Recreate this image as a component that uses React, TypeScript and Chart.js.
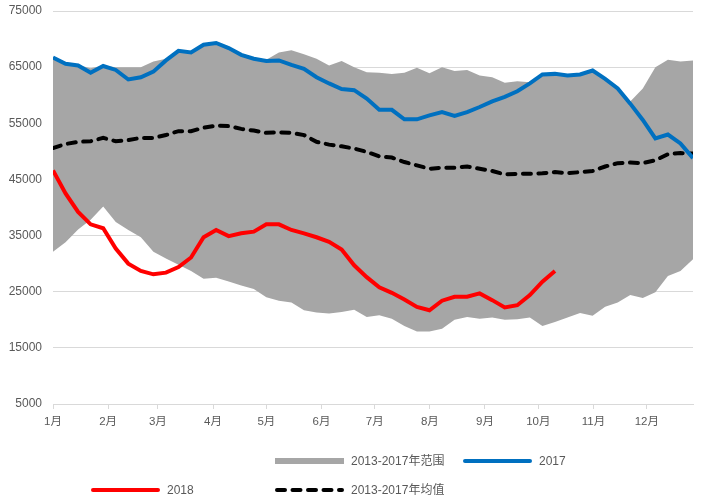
import React, { useEffect, useRef } from 'react';
import { Chart, registerables } from 'chart.js';

Chart.register(...registerables);

// ---- data (weekly points, week index 0..51) ----
const monthLabels = ['1月', '2月', '3月', '4月', '5月', '6月', '7月', '8月', '9月', '10月', '11月', '12月'];
const monthStartDays = [0, 31, 59, 90, 120, 151, 181, 212, 243, 273, 304, 334];
const axisSpanDays = 360;

const series2018 = [
  46600, 42500, 39200, 37000, 36300, 32700, 30000, 28700, 28100, 28400,
  29400, 31100, 34700, 36000, 34900, 35400, 35700, 37000, 37000, 36000,
  35400, 34700, 33900, 32500, 29700, 27600, 25800, 24800, 23600, 22300,
  21700, 23400, 24100, 24100, 24700, 23500, 22200, 22600, 24400, 26800,
  28700,
];

const series2017 = [
  66700, 65600, 65300, 64000, 65200, 64500, 62800, 63200, 64200, 66200,
  67900, 67600, 69000, 69300, 68400, 67200, 66500, 66100, 66200, 65400,
  64700, 63200, 62100, 61100, 60900, 59400, 57400, 57400, 55700, 55700,
  56400, 57000, 56300, 57000, 57900, 58900, 59700, 60700, 62100, 63700,
  63800, 63500, 63700, 64400, 62900, 61200, 58500, 55600, 52300, 53000,
  51400, 48800,
];

const avg5y = [
  50600, 51300, 51700, 51800, 52400, 51800, 52000, 52400, 52400, 52900,
  53600, 53600, 54200, 54600, 54500, 54000, 53700, 53300, 53400, 53300,
  52900, 51700, 51200, 50900, 50500, 49900, 49100, 48900, 48100, 47500,
  46900, 47100, 47100, 47300, 46900, 46500, 45900, 46000, 46000, 46100,
  46300, 46100, 46300, 46500, 47300, 47900, 48000, 47900, 48400, 49500,
  49700, 49600,
];

const max5y = [
  66800, 65700, 65400, 64800, 65300, 65000, 65000, 65000, 66000, 66500,
  67900, 67600, 69000, 69300, 68400, 67200, 66500, 66300, 67600, 68000,
  67300, 66500, 65300, 66100, 65000, 64100, 64000, 63800, 64000, 64900,
  63900, 65000, 64300, 64500, 63500, 63200, 62200, 62500, 62300, 63700,
  63800, 63500, 63700, 64400, 62900, 61200, 58900, 61200, 65000, 66300,
  66000, 66200,
];

const min5y = [
  32100, 33800, 36100, 37800, 40200, 37400, 36000, 34700, 32100, 30900,
  29800, 28700, 27300, 27500, 26800, 26100, 25500, 24000, 23400, 23100,
  21700, 21300, 21100, 21400, 21800, 20500, 20800, 20200, 18900, 17900,
  17900, 18400, 20000, 20500, 20200, 20400, 20000, 20100, 20400, 18900,
  19600, 20400, 21200, 20700, 22300, 23100, 24400, 23900, 24900, 27800,
  28700, 30800,
];

const yTicks = { min: 5000, max: 75000, step: 10000 };

const FONT = '"Liberation Sans", "Noto Sans CJK SC", sans-serif';
const TEXT = '#595959';
const GRID = '#D9D9D9';

const toXY = (arr: number[]) => arr.map((v, i) => ({ x: i, y: v }));

const legendPlugin = {
  id: 'customLegend',
  afterDraw(chart: any) {
    const ctx = chart.ctx as CanvasRenderingContext2D;
    const ds = chart.data.datasets;
    const w = 69;
    const items = [
      { idx: 4, kind: 'box', x: 275, y: 461 },
      { idx: 1, kind: 'line', x: 463, y: 461 },
      { idx: 0, kind: 'line', x: 91, y: 490 },
      { idx: 2, kind: 'dash', x: 275, y: 490 },
    ];
    ctx.save();
    items.forEach((it) => {
      const d = ds[it.idx];
      if (it.kind === 'box') {
        ctx.fillStyle = d.backgroundColor;
        ctx.fillRect(it.x, it.y - 3, w, 6);
      } else {
        ctx.strokeStyle = d.borderColor;
        ctx.lineWidth = 4;
        ctx.lineCap = 'round';
        ctx.setLineDash(it.kind === 'dash' ? [8, 7.5] : []);
        ctx.beginPath();
        ctx.moveTo(it.x + 2, it.y);
        ctx.lineTo(it.x + w - 2, it.y);
        ctx.stroke();
        ctx.setLineDash([]);
      }
      ctx.fillStyle = TEXT;
      ctx.font = '12px ' + FONT;
      ctx.textBaseline = 'middle';
      ctx.textAlign = 'left';
      ctx.fillText(d.label, it.x + w + 7, it.y + 1);
    });
    ctx.restore();
  },
};

export default function App() {
  const canvasRef = useRef<HTMLCanvasElement | null>(null);

  useEffect(() => {
    document.body.style.margin = '0';
    const canvas = canvasRef.current;
    if (!canvas) return;
    const lastIndex = series2017.length - 1;
    const tickPos = monthStartDays.map((d) => (d * lastIndex) / axisSpanDays);

    const chart = new Chart(canvas, {
      type: 'line',
      data: {
        datasets: [
          {
            label: '2018',
            data: toXY(series2018),
            borderColor: '#FF0000',
            backgroundColor: '#FF0000',
            borderWidth: 4,
            pointRadius: 0,
            fill: false,
            tension: 0,
            order: 1,
          },
          {
            label: '2017',
            data: toXY(series2017),
            borderColor: '#0070C0',
            backgroundColor: '#0070C0',
            borderWidth: 4,
            pointRadius: 0,
            fill: false,
            tension: 0,
            order: 2,
          },
          {
            label: '2013-2017年均值',
            data: toXY(avg5y),
            borderColor: '#000000',
            backgroundColor: '#000000',
            borderWidth: 4,
            borderDash: [8, 7.5],
            borderCapStyle: 'round',
            pointRadius: 0,
            fill: false,
            tension: 0,
            order: 3,
          },
          {
            label: 'min',
            data: toXY(min5y),
            borderColor: 'rgba(0,0,0,0)',
            backgroundColor: 'rgba(0,0,0,0)',
            borderWidth: 0,
            pointRadius: 0,
            fill: false,
            tension: 0,
            order: 10,
          },
          {
            label: '2013-2017年范围',
            data: toXY(max5y),
            borderColor: 'rgba(0,0,0,0)',
            backgroundColor: '#A6A6A6',
            borderWidth: 0,
            pointRadius: 0,
            fill: 3,
            tension: 0,
            order: 11,
          },
        ] as any,
      },
      options: {
        animation: false,
        responsive: true,
        maintainAspectRatio: false,
        layout: { padding: { top: 11, right: 8, bottom: 0, left: 0 } },
        plugins: {
          legend: { display: false },
          tooltip: { enabled: false },
        },
        scales: {
          x: {
            type: 'linear',
            min: 0,
            max: lastIndex,
            afterBuildTicks: (scale: any) => {
              scale.ticks = tickPos.map((v) => ({ value: v }));
            },
            afterFit: (scale: any) => {
              scale.height = 97;
              scale.paddingLeft = 0;
              scale.paddingRight = 0;
            },
            ticks: {
              autoSkip: false,
              maxRotation: 0,
              minRotation: 0,
              padding: 6,
              color: TEXT,
              font: { family: FONT, size: 11.5 },
              callback: (_v: any, i: number) => monthLabels[i],
            },
            grid: {
              display: true,
              drawOnChartArea: false,
              drawTicks: true,
              tickLength: 5,
              color: GRID,
            },
            border: { display: true, color: GRID, width: 1 },
          },
          y: {
            min: yTicks.min,
            max: yTicks.max,
            afterFit: (scale: any) => {
              scale.width = 53;
              scale.paddingTop = 0;
              scale.paddingBottom = 0;
            },
            ticks: {
              stepSize: yTicks.step,
              padding: 11,
              color: TEXT,
              font: { family: FONT, size: 12 },
              callback: (v: any) => String(v),
            },
            grid: { color: GRID, drawTicks: false, lineWidth: 1 },
            border: { display: false },
          },
        },
      } as any,
      plugins: [legendPlugin],
    });
    return () => chart.destroy();
  }, []);

  return (
    <div style={{ width: 701, height: 501, position: 'relative' }}>
      <canvas ref={canvasRef} />
    </div>
  );
}
